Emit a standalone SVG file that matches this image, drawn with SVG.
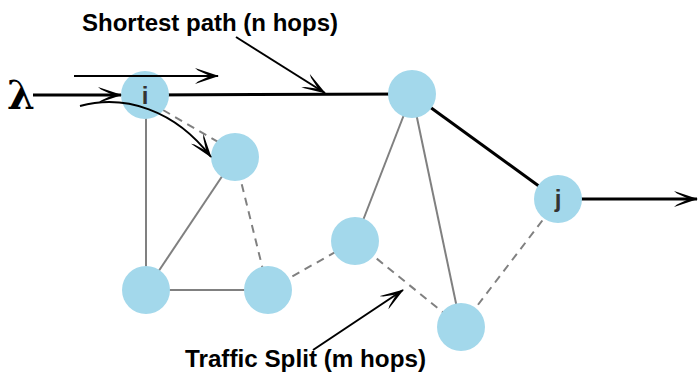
<svg xmlns="http://www.w3.org/2000/svg" width="698" height="375" viewBox="0 0 698 375">
<style>
.n{fill:#a3d8eb}
.lbl{font-family:"Liberation Sans",Arial,sans-serif;font-weight:bold;font-size:23px;fill:#000}
.nl{font-family:"Liberation Sans",Arial,sans-serif;font-weight:bold;font-size:24px;fill:#333;text-anchor:middle}
.g{stroke:#808080;stroke-width:2;fill:none}
.d{stroke:#808080;stroke-width:2;fill:none;stroke-dasharray:8,6}
.k{stroke:#000;stroke-width:3;fill:none}
.a{stroke:#000;stroke-width:2;fill:none}
</style>
<defs>
<marker id="ah" viewBox="0 0 24 16" refX="23" refY="8" markerWidth="24" markerHeight="16" markerUnits="userSpaceOnUse" orient="auto">
<path d="M0,0 L24,8 L0,16 L3,13.5 L15,8 L3,2.5 z" fill="#000"/>
</marker>
</defs>
<g id="connectors">
<line class="g" x1="146" y1="95" x2="146" y2="290"/>
<line class="g" x1="235" y1="157" x2="146" y2="290"/>
<line class="g" x1="146" y1="290" x2="268" y2="290"/>
<line class="d" x1="163" y1="110" x2="220" y2="143"/>
<line class="d" x1="235" y1="157" x2="268" y2="290"/>
<line class="d" x1="268" y1="290" x2="355" y2="241"/>
<line class="g" x1="355" y1="241" x2="412" y2="94"/>
<line class="g" x1="412" y1="94" x2="461" y2="327"/>
<line class="d" x1="355" y1="241" x2="461" y2="327"/>
<line class="d" x1="461" y1="327" x2="558" y2="200"/>
<line class="k" x1="146" y1="95" x2="412" y2="94"/>
<line class="k" x1="412" y1="94" x2="558" y2="200"/>
<line class="k" x1="580" y1="199" x2="697" y2="199" marker-end="url(#ah)"/>
</g>
<g id="node-i"><circle class="n" cx="145" cy="95" r="24"/><text class="nl" x="145" y="104">i</text></g>
<g id="node-2"><circle class="n" cx="235" cy="157" r="24"/></g>
<g id="node-3"><circle class="n" cx="146" cy="290" r="24"/></g>
<g id="node-4"><circle class="n" cx="268" cy="290" r="24"/></g>
<g id="node-5"><circle class="n" cx="355" cy="241" r="24"/></g>
<g id="node-6"><circle class="n" cx="412" cy="94" r="24"/></g>
<g id="node-7"><circle class="n" cx="461" cy="327" r="24"/></g>
<g id="node-j"><circle class="n" cx="558" cy="199" r="24"/><text class="nl" x="558" y="207">j</text></g>
<g id="annotations">
<line class="k" x1="33" y1="95" x2="121" y2="95" marker-end="url(#ah)"/>
<line class="a" x1="74" y1="76" x2="218" y2="76" marker-end="url(#ah)"/>
<path class="a" d="M80,106 C125,94 175,110 211,157" marker-end="url(#ah)"/>
<line class="a" x1="236" y1="37" x2="325" y2="93" marker-end="url(#ah)"/>
<line class="a" x1="313" y1="350" x2="403" y2="290" marker-end="url(#ah)"/>
</g>
<g id="labels">
<text x="7" y="109" style="font-family:'DejaVu Serif','Liberation Serif',serif;font-weight:bold;font-size:40px">λ</text>
<text class="lbl" x="82" y="31" textLength="256" lengthAdjust="spacingAndGlyphs">Shortest path (n hops)</text>
<text class="lbl" x="185" y="367" textLength="241" lengthAdjust="spacingAndGlyphs">Traffic Split (m hops)</text>
</g>
</svg>
